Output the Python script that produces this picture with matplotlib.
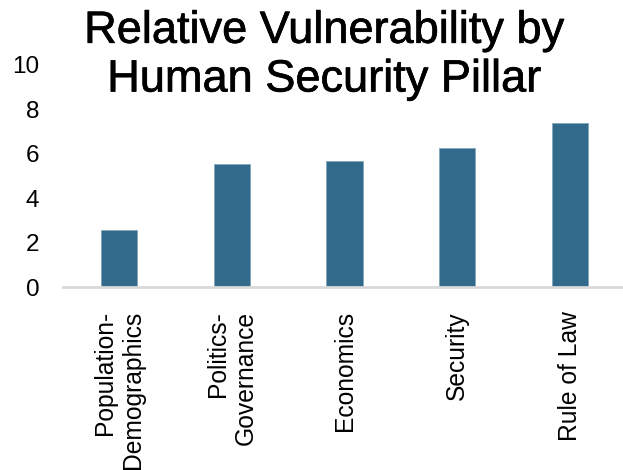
import matplotlib.pyplot as plt
import matplotlib.patheffects as pe

categories = ["Population-\nDemographics", "Politics-\nGovernance", "Economics", "Security", "Rule of Law"]
values = [2.57, 5.55, 5.68, 6.26, 7.4]
yticks = [0, 2, 4, 6, 8, 10]

fig = plt.figure(figsize=(6.23, 4.7), dpi=100)
ax = fig.add_axes([0.101, 0.389, 0.904, 0.473])

x = range(len(categories))
ax.bar(x, values, width=0.32, color="#316a8a", edgecolor="#7fa3b8", linewidth=0.5, zorder=2)

ax.set_xlim(-0.5, 4.5)
ax.set_ylim(0, 10)
ax.set_yticks(yticks)
ax.set_yticklabels([str(t) for t in yticks], fontsize=17.5, family=["Liberation Sans", "DejaVu Sans"])
ax.set_xticks(list(x))
ax.set_xticklabels(categories, rotation=90, fontsize=17.7, family=["Liberation Sans", "DejaVu Sans"],
                   ha="center", va="top", ma="right")
ax.tick_params(axis="both", length=0, pad=17)

for s in ["top", "right", "left"]:
    ax.spines[s].set_visible(False)
ax.spines["bottom"].set_color("#d9d9d9")
ax.spines["bottom"].set_linewidth(2)

title = fig.text(0.52, 0.977, "Relative Vulnerability by\nHuman Security Pillar", ha="center", va="top",
                 fontsize=32.5, linespacing=1.24, family=["Liberation Sans", "DejaVu Sans"])
title.set_path_effects([pe.withStroke(linewidth=0.5, foreground="black")])

fig.savefig("out.png", dpi=100)
